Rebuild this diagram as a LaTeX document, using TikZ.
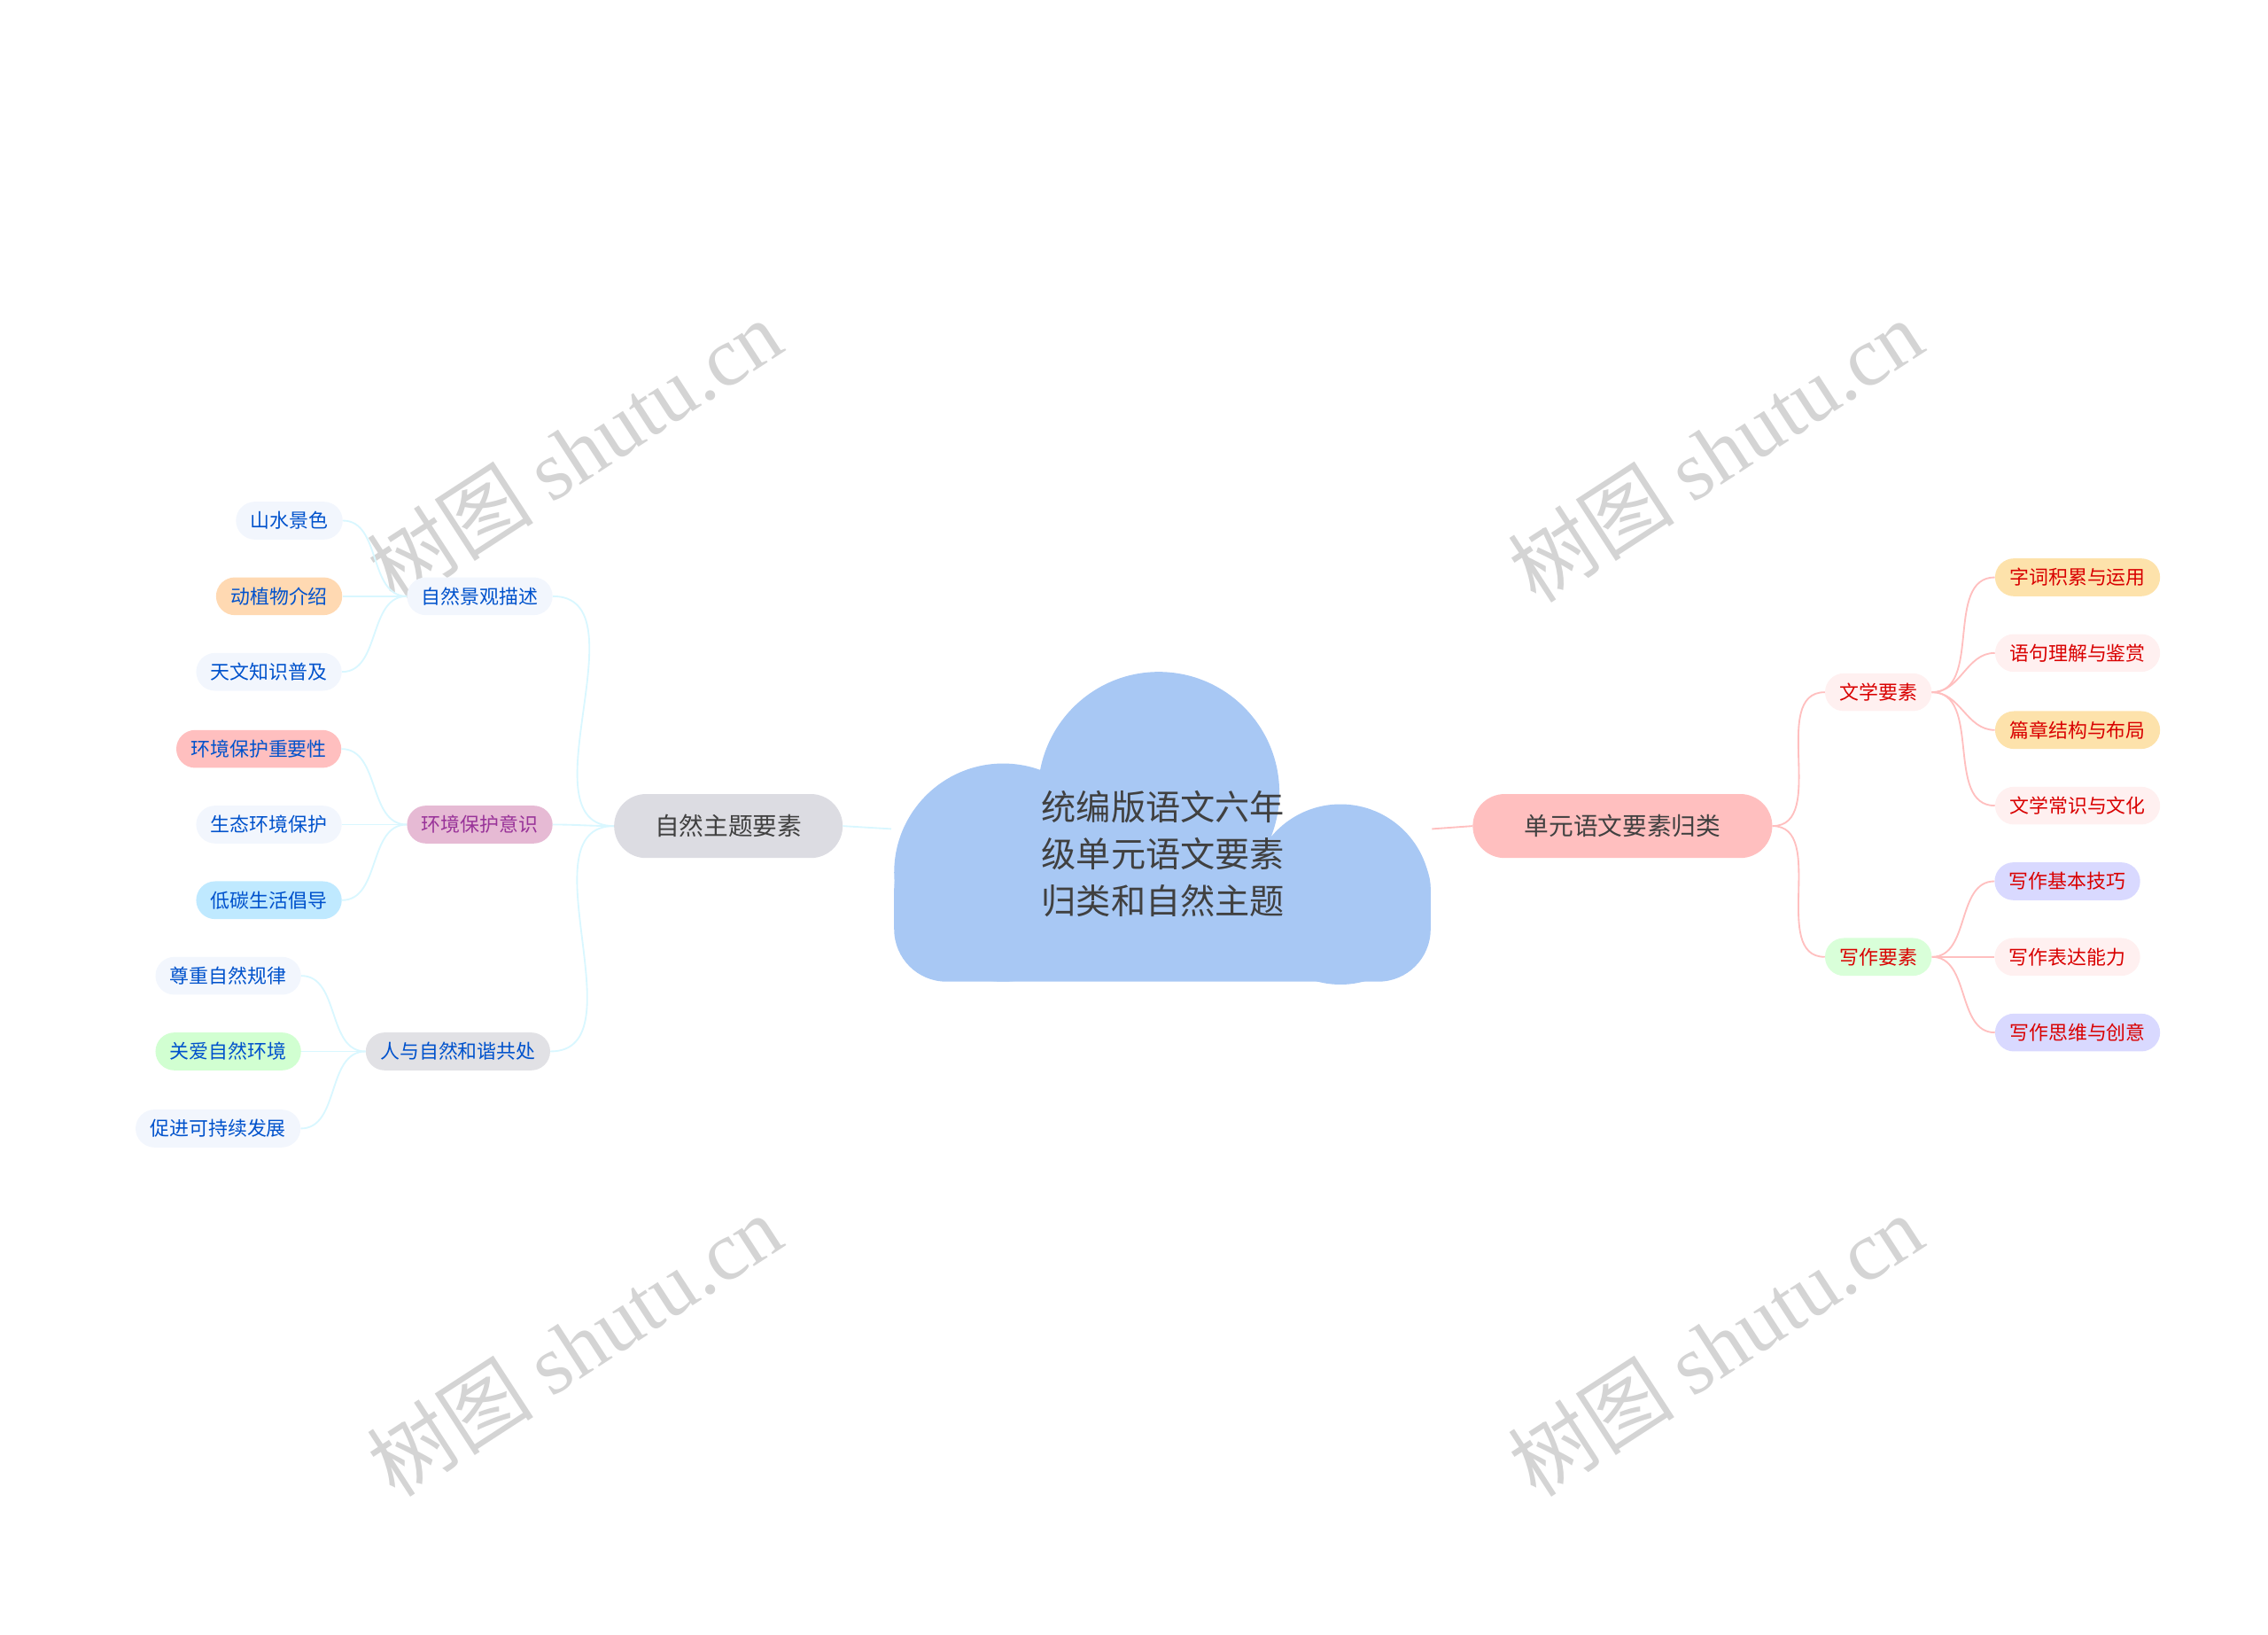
\documentclass[tikz,border=0pt]{standalone}
\usepackage{fontspec}
\setmainfont{Noto Sans CJK SC}
\newfontfamily\wmfont{Liberation Serif}
\begin{document}
\begin{tikzpicture}[x=0.05cm,y=-0.05cm,
  leaf/.style={rounded corners=0.65cm,minimum height=1.3cm,inner xsep=0.5cm,font=\fontsize{19}{22}\selectfont},
  lft/.style={leaf,text=blue!60!cyan!80!black},
  rgt/.style={leaf,text=red!85!black},
  mainn/.style={rounded corners=1.1cm,minimum height=2.2cm,inner xsep=1.4cm,font=\fontsize{24}{28}\selectfont,text=black!75},
  lc/.style={draw=blue!20!cyan!15!white,line width=1.6pt},
  rc/.style={draw=red!25,line width=1.6pt}]
\definecolor{pale}{HTML}{F2F6FD}
\definecolor{cloudc}{HTML}{A8C8F4}
\useasboundingbox (0,0) rectangle (1560,1124);
% watermarks
\foreach \p/\q in {(395,310)/w1,(1180,310)/w2,(395,925)/w3,(1180,925)/w4}
  \node[rotate=33,text=black!17,font=\fontsize{82}{90}\selectfont] (\q) at \p {树图 {\wmfont shutu.cn}};
% cloud
\fill[cloudc] (797,545) circle (83);
\fill[cloudc] (690,600) circle (75);
\fill[cloudc] (922,615) circle (62);
\fill[cloudc,rounded corners=1.8cm] (615,575) rectangle (984,675);
\node[font=\fontsize{34}{46}\selectfont,text=black!75,align=center] (c) at (800,587) {统编版语文六年\\级单元语文要素\\归类和自然主题};
\coordinate (cl) at (613,570); \coordinate (cr) at (985,570);
% main
\node[mainn,fill=blue!10!gray!25] (L) at (501,568) {自然主题要素};
\node[mainn,fill=red!25,minimum width=10.3cm] (R) at (1116,568) {单元语文要素归类};
\draw[lc] (cl) -- (L.east);
\draw[rc] (cr) -- (R.west);
% left level 2
\node[lft,fill=pale] (a) at (330,410) {自然景观描述};
\node[leaf,fill=magenta!35!violet!30,text=violet!80] (b) at (330,567) {环境保护意识};
\node[lft,fill=blue!8!gray!22] (d) at (315,723) {人与自然和谐共处};
\foreach \n in {a,b,d} \draw[lc] (L.west) to[out=180,in=0] (\n.east);
\node[lft,fill=pale] (a1) at (199,358) {山水景色};
\node[lft,fill=orange!30] (a2) at (192,410) {动植物介绍};
\node[lft,fill=pale] (a3) at (185,462) {天文知识普及};
\node[lft,fill=red!25] (b1) at (178,515) {环境保护重要性};
\node[lft,fill=pale] (b2) at (185,567) {生态环境保护};
\node[lft,fill=blue!35!cyan!25] (b3) at (185,619) {低碳生活倡导};
\node[lft,fill=pale] (d1) at (157,671) {尊重自然规律};
\node[lft,fill=green!18] (d2) at (157,723) {关爱自然环境};
\node[lft,fill=pale] (d3) at (150,776) {促进可持续发展};
\foreach \p/\c in {a/a1,a/a2,a/a3,b/b1,b/b2,b/b3,d/d1,d/d2,d/d3}
  \draw[lc] (\p.west) to[out=180,in=0] (\c.east);
% right
\node[rgt,fill=red!6] (e) at (1292,476) {文学要素};
\node[rgt,fill=green!15] (f) at (1292,658) {写作要素};
\foreach \n in {e,f} \draw[rc] (R.east) to[out=0,in=180] (\n.west);
\node[rgt,fill=yellow!30!orange!30] (e1) at (1429,397) {字词积累与运用};
\node[rgt,fill=red!6] (e2) at (1429,449) {语句理解与鉴赏};
\node[rgt,fill=yellow!30!orange!30] (e3) at (1429,502) {篇章结构与布局};
\node[rgt,fill=red!6] (e4) at (1429,554) {文学常识与文化};
\node[rgt,fill=blue!15] (f1) at (1422,606) {写作基本技巧};
\node[rgt,fill=red!6] (f2) at (1422,658) {写作表达能力};
\node[rgt,fill=blue!15] (f3) at (1429,710) {写作思维与创意};
\foreach \p/\c in {e/e1,e/e2,e/e3,e/e4,f/f1,f/f2,f/f3}
  \draw[rc] (\p.east) to[out=0,in=180] (\c.west);
\end{tikzpicture}
\end{document}
